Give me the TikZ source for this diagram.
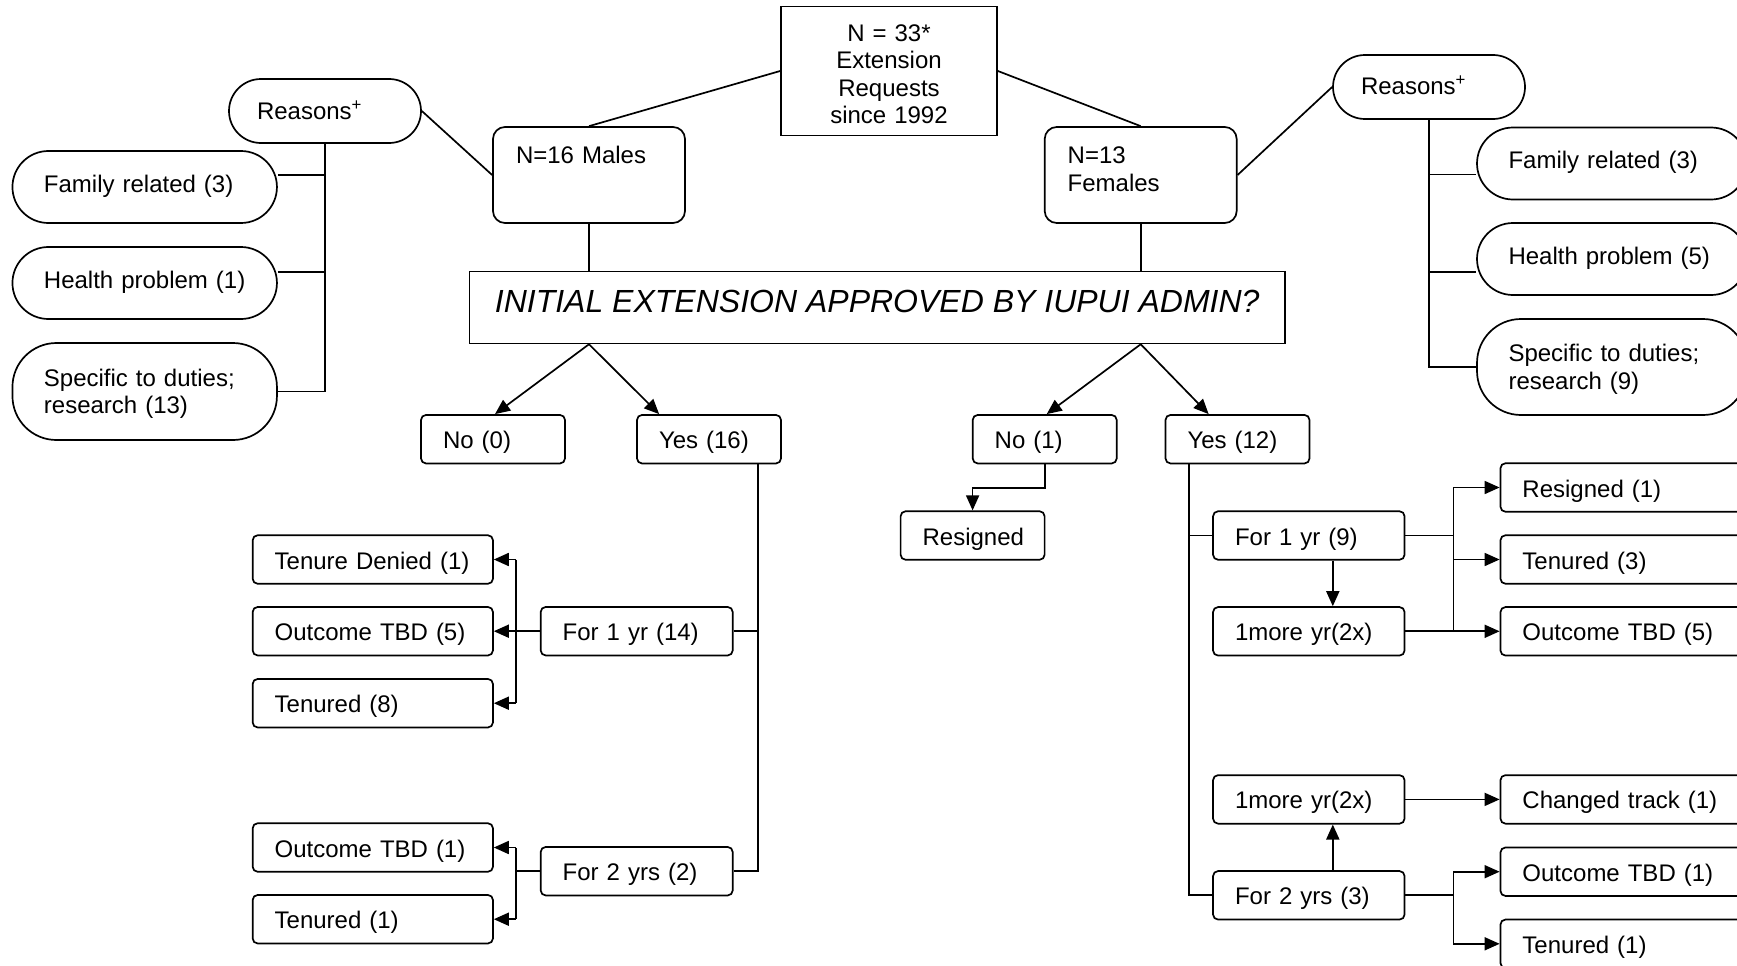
\documentclass[tikz,border=0pt]{standalone}
\usepackage{fontspec}
\setmainfont{Liberation Sans}
\usetikzlibrary{arrows.meta,backgrounds}
\begin{document}
\begin{tikzpicture}[x=1pt,y=-1pt,
  base/.style={draw, line width=1.7pt, fill=white, font=\fontsize{24pt}{27.5pt}\selectfont,
    inner ysep=0pt, text height=17pt, text depth=0pt},
  sbox/.style={base, rounded corners=5pt, minimum height=48.5pt, inner xsep=22pt, align=left, text width=#1, text height=19pt},
  gbox/.style={base, rounded corners=12pt, minimum height=96pt, inner xsep=23pt, align=left, text width=146pt, text depth=40pt},
  stad/.style={base, inner xsep=31.5pt, align=left, text width=#1},
  topbox/.style={base, minimum height=129pt, inner xsep=10pt, align=center, text width=196pt, text depth=76pt},
  ln/.style={line width=1.7pt},
  arr/.style={ln, -{Triangle[length=15pt,width=13pt]}}]
\useasboundingbox (0,0) rectangle (1737,966);
\clip (0,0) rectangle (1737,966);

% top level
\node[topbox] (top) at (889,71) {N = 33*\\Extension\\Requests\\since 1992};
\node[gbox] (males) at (589,175) {N=16 Males};
\node[gbox] (fem) at (1140.7,175) {N=13\\Females};

% reasons
\node[stad=136pt, inner xsep=28pt, rounded corners=32pt, minimum height=64pt] (reasL) at (325,111) {Reasons\textsuperscript{+}};
\node[stad=136pt, inner xsep=28pt, rounded corners=32pt, minimum height=64pt, text depth=2pt] (reasR) at (1429,87) {Reasons\textsuperscript{+}};
\node[stad=201.5pt, rounded corners=36pt, minimum height=72pt, text depth=7pt] (famL) at (144.7,187) {Family related (3)};
\node[stad=201.5pt, rounded corners=36pt, minimum height=72pt, text depth=7pt] (hltL) at (144.7,283) {Health problem (1)};
\node[stad=201.5pt, rounded corners=44pt, minimum height=97pt, text depth=27.5pt] (spcL) at (144.7,391.5) {Specific to duties;\\research (13)};
\node[stad=207pt, rounded corners=36pt, minimum height=72pt, text depth=7pt] (famR) at (1612,163.5) {Family related (3)};
\node[stad=207pt, rounded corners=36pt, minimum height=72pt, text depth=7pt] (hltR) at (1612,259) {Health problem (5)};
\node[stad=207pt, rounded corners=44pt, minimum height=96pt, text depth=27.5pt] (spcR) at (1612,367) {Specific to duties;\\research (9)};

% question
\node[base, minimum width=815.5pt, minimum height=72pt, font=\fontsize{32pt}{38pt}\selectfont\itshape,
  text height=23pt, text depth=12.9pt] (init) at (877.2,307.4) {INITIAL EXTENSION APPROVED BY IUPUI ADMIN?};

% answers
\node[sbox=100pt] (no0) at (493,439.2) {No (0)};
\node[sbox=100pt] (yes16) at (709,439.2) {Yes (16)};
\node[sbox=100pt] (no1) at (1044.7,439.2) {No (1)};
\node[sbox=100pt] (yes12) at (1237.5,439.2) {Yes (12)};
\node[sbox=100pt] (resg) at (972.6,535.5) {Resigned};

% male outcomes
\node[sbox=196.3pt] (td1) at (372.8,559.5) {Tenure Denied (1)};
\node[sbox=196.3pt] (otbd5L) at (372.8,631.2) {Outcome TBD (5)};
\node[sbox=196.3pt] (ten8) at (372.8,703.2) {Tenured (8)};
\node[sbox=148pt] (f1y14) at (636.7,631.2) {For 1 yr (14)};
\node[sbox=196.3pt] (otbd1L) at (372.8,847.5) {Outcome TBD (1)};
\node[sbox=196.3pt] (ten1L) at (372.8,919.2) {Tenured (1)};
\node[sbox=148pt] (f2y2) at (636.7,871.2) {For 2 yrs (2)};

% female outcomes
\node[sbox=147.5pt] (f1y9) at (1308.8,535.5) {For 1 yr (9)};
\node[sbox=147.5pt] (more1) at (1308.8,631.3) {1more yr(2x)};
\node[sbox=147.5pt] (more2) at (1308.8,799.4) {1more yr(2x)};
\node[sbox=147.5pt] (f2y3) at (1308.8,895.3) {For 2 yrs (3)};
\node[sbox=215.5pt] (res1) at (1630.2,487.5) {Resigned (1)};
\node[sbox=215.5pt] (ten3) at (1630.2,559.5) {Tenured (3)};
\node[sbox=215.5pt] (otbd5R) at (1630.2,631.3) {Outcome TBD (5)};
\node[sbox=215.5pt] (chg) at (1630.2,799.4) {Changed track (1)};
\node[sbox=215.5pt] (otbd1R) at (1630.2,871.7) {Outcome TBD (1)};
\node[sbox=215.5pt] (ten1R) at (1630.2,943.8) {Tenured (1)};

\begin{scope}[on background layer]
\draw[ln] (reasL.east) -- (males.west);
\draw[ln] (males.north) -- (top.west);
\draw[ln] (top.east) -- (fem.north);
\draw[ln] (fem.east) -- (reasR.west);
% left reasons tree
\draw[ln] (reasL.south) |- (spcL.east);
\coordinate (fL) at ([yshift=12pt]famL.east);
\draw[ln] (fL) -- (fL -| reasL.south);
\coordinate (hL) at ([yshift=11pt]hltL.east);
\draw[ln] (hL) -- (hL -| reasL.south);
% right reasons tree
\draw[ln] (reasR.south) |- (spcR.west);
\coordinate (fR) at ([yshift=-11pt]famR.west);
\draw[ln] (fR) -- (fR -| reasR.south);
\coordinate (hR) at ([yshift=-12.7pt]hltR.west);
\draw[ln] (hR) -- (hR -| reasR.south);
% to question
\draw[ln] (males.south) -- (males.south |- init.north);
\draw[ln] (fem.south) -- (fem.south |- init.north);
\draw[arr] (males.south |- init.south) -- ([xshift=2pt]no0.north);
\draw[arr] (males.south |- init.south) -- ([xshift=23pt]yes16.north west);
\draw[arr] (fem.south |- init.south) -- ([xshift=2pt]no1.north);
\draw[arr] (fem.south |- init.south) -- ([xshift=44pt]yes12.north west);
% male yes
\coordinate (y16) at ([xshift=-24pt]yes16.south east);
\draw[ln] (y16) |- (f2y2.east);
\draw[ln] (f1y14.east) -- (f1y14.east -| y16);
\coordinate (b1) at ([xshift=-24pt]f1y14.west);
\draw[ln] (f1y14.west) -- (b1);
\draw[ln] (b1 |- td1.east) -- (b1 |- ten8.east);
\draw[arr] (b1 |- td1.east) -- (td1.east);
\draw[arr] (b1 |- otbd5L.east) -- (otbd5L.east);
\draw[arr] (b1 |- ten8.east) -- (ten8.east);
\coordinate (b2) at ([xshift=-24pt]f2y2.west);
\draw[ln] (f2y2.west) -- (b2);
\draw[ln] (b2 |- otbd1L.east) -- (b2 |- ten1L.east);
\draw[arr] (b2 |- otbd1L.east) -- (otbd1L.east);
\draw[arr] (b2 |- ten1L.east) -- (ten1L.east);
% female no
\draw[arr] (no1.south) -- ++(0,24) -| (resg.north);
% female yes
\coordinate (y12) at ([xshift=24pt]yes12.south west);
\draw[ln] (y12) |- (f2y3.west);
\draw[ln] (f1y9.west) -- (f1y9.west -| y12);
\draw[arr] ([xshift=24pt]f1y9.south) -- ([xshift=24pt]more1.north);
\draw[arr] ([xshift=24pt]f2y3.north) -- ([xshift=24pt]more2.south);
\coordinate (b3) at ([xshift=48pt]f1y9.east);
\draw[ln] (f1y9.east) -- (b3);
\draw[ln] (b3 |- res1.west) -- (b3 |- otbd5R.west);
\draw[arr] (b3 |- res1.west) -- (res1.west);
\draw[arr] (b3 |- ten3.west) -- (ten3.west);
\draw[arr] (more1.east) -- (otbd5R.west);
\draw[arr] (more2.east) -- (chg.west);
\coordinate (b4) at ([xshift=48pt]f2y3.east);
\draw[ln] (f2y3.east) -- (b4);
\draw[ln] (b4 |- otbd1R.west) -- (b4 |- ten1R.west);
\draw[arr] (b4 |- otbd1R.west) -- (otbd1R.west);
\draw[arr] (b4 |- ten1R.west) -- (ten1R.west);
\end{scope}
\end{tikzpicture}
\end{document}
